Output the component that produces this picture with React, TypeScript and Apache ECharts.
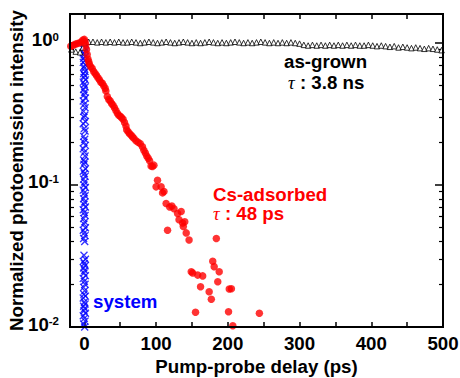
import React, { useEffect, useRef } from 'react';
import * as echarts from 'echarts';

// ---- data ----
const asGrownX = [-18, -12, -6, -2,
  0, 6, 12, 18, 24, 30, 36, 42, 48, 54,
  60, 66, 72, 78, 84, 90, 96, 102, 108, 114,
  120, 126, 132, 138, 144, 150, 156, 162, 168, 174,
  180, 186, 192, 198, 204, 210, 216, 222, 228, 234,
  240, 246, 252, 258, 264, 270, 276, 282, 288, 294,
  300, 306, 312, 318, 324, 330, 336, 342, 348, 354,
  360, 366, 372, 378, 384, 390, 396, 402, 408, 414,
  420, 426, 432, 438, 444, 450, 456, 462, 468, 474,
  480, 486, 492, 498];
const asGrownY = [0.9, 0.87, 0.86, 0.93,
  1.0, 1.02, 1.02, 1.01, 1.02, 1.01, 1.02, 1.01, 1.02, 1.01,
  1.01, 1.02, 1.01, 1.0, 1.01, 1.02, 1.01, 1.0, 1.01, 1.02,
  1.01, 1.0, 1.01, 1.02, 1.01, 1.0, 1.01, 1.0, 1.01, 1.02,
  1.01, 1.0, 1.01, 1.0, 1.01, 1.02, 1.01, 1.0, 1.01, 1.0,
  1.01, 1.02, 1.01, 1.0, 1.01, 1.0, 1.01, 1.0, 1.01, 1.0,
  0.99, 0.97, 0.96, 0.97, 0.96, 0.97, 0.96, 0.97, 0.96, 0.97,
  0.96, 0.97, 0.96, 0.97, 0.96, 0.96, 0.97, 0.96, 0.95, 0.96,
  0.95, 0.94, 0.95, 0.93, 0.94, 0.93, 0.92, 0.93, 0.92, 0.91,
  0.92, 0.91, 0.9, 0.89];

const csX = [-19, -16, -13, -10, -7, -4, -2, 0, 1, 2,
  3, 4, 5, 6, 7, 9, 11, 13, 15, 17,
  19, 21, 23, 25, 27, 29, 30, 32, 34, 36,
  38, 40, 42, 44, 46, 48, 50, 52, 54, 56,
  58, 59, 61, 63, 65, 67, 69, 72, 75, 78,
  81, 83, 85, 87, 89, 91, 93, 95, 97, 102,
  100, 107, 109, 111, 114, 116, 119, 122, 125, 130,
  132, 135, 137, 138, 140, 142, 146, 149, 151, 155,
  158, 162, 165, 174, 177, 179, 181, 184, 186, 188,
  201, 202, 205, 207, 244];
const csY = [0.95, 0.96, 0.98, 0.99, 1.0, 1.02, 1.05, 1.06, 1.02, 0.97,
  0.9, 0.83, 0.77, 0.74, 0.71, 0.68, 0.66, 0.63, 0.61, 0.59,
  0.57, 0.55, 0.53, 0.52, 0.5, 0.48, 0.46, 0.42, 0.4, 0.39,
  0.375, 0.365, 0.35, 0.335, 0.32, 0.31, 0.305, 0.298, 0.29, 0.275,
  0.26, 0.245, 0.237, 0.23, 0.225, 0.219, 0.213, 0.205, 0.2, 0.195,
  0.186, 0.176, 0.168, 0.16, 0.154, 0.148, 0.136, 0.135, 0.138, 0.108,
  0.097, 0.097, 0.088, 0.09, 0.074, 0.048, 0.07, 0.071, 0.068, 0.063,
  0.057, 0.065, 0.054, 0.051, 0.055, 0.046, 0.041, 0.0245, 0.024, 0.0127,
  0.0232, 0.0192, 0.0229, 0.0177, 0.0157, 0.029, 0.0266, 0.042, 0.0208, 0.0245,
  0.0128, 0.0185, 0.0186, 0.0102, 0.0125];

const sysX = [0, 1, -1, 0.5, -0.5, 1.5, -1.5, 0, 1, -1,
  0.5, -1.5, 1.5, -0.5, 0, 1, -1, 0.5, -0.5, 1.5,
  -1.5, 0, 1, -1, 0.5, -0.5, 1.5, -1.5, 0, 1,
  -1, 0.5, -0.5, 1.5, -1.5, 0, 1, -1, 0.5, -0.5,
  1.5, -1.5, 0, 1, -1, 0.5, -0.5, 1.5, -1.5, 0,
  1, -1, 0.5, -0.5, 1.5, -1.5, 0, 1, -1, 0.5,
  -0.5, 1.5, -1.5, 0, 1, -1, 0.5, -0.5, 1.5, -1.5,
  0, 1, -1, 0.5, -0.5, 1.5, -1.5, 0, 1, -1,
  0.5, -0.5, 1.5, -1.5, 0, 1, -1, 0.5, -0.5, 1.5,
  -1.5, 0, 1, -1, 0.5, -0.5, 1.5, -1.5, 0, 1,
  -1, 0.5];
const sysY = [1.0, 0.98, 0.95, 0.93, 0.9, 0.88, 0.85, 0.83, 0.8, 0.78,
  0.75, 0.73, 0.7, 0.68, 0.66, 0.63, 0.61, 0.59, 0.57, 0.55,
  0.53, 0.51, 0.49, 0.47, 0.45, 0.43, 0.41, 0.39, 0.37, 0.35,
  0.33, 0.31, 0.3, 0.28, 0.27, 0.25, 0.24, 0.22, 0.21, 0.2,
  0.19, 0.18, 0.17, 0.16, 0.15, 0.145, 0.14, 0.13, 0.125, 0.12,
  0.115, 0.11, 0.105, 0.1, 0.096, 0.092, 0.088, 0.084, 0.08, 0.076,
  0.073, 0.07, 0.067, 0.064, 0.061, 0.058, 0.055, 0.053, 0.05, 0.048,
  0.046, 0.044, 0.042, 0.04, 0.032, 0.03, 0.029, 0.028, 0.027, 0.026,
  0.025, 0.024, 0.023, 0.022, 0.021, 0.02, 0.019, 0.018, 0.017, 0.0165,
  0.016, 0.015, 0.0145, 0.014, 0.0135, 0.013, 0.0125, 0.012, 0.0115, 0.011,
  0.0105, 0.01];

const xLabelValues = [0, 100, 200, 300, 400, 500];
const xTickValues = [0, 50, 100, 150, 200, 250, 300, 350, 400, 450, 500];
const xMin = -20;
const xMax = 500;
const yMin = 0.01;
const yMax = 1.6;

const F = '"Liberation Sans", Arial, Helvetica, sans-serif';
const SERIF = '"Liberation Serif", "Times New Roman", serif';
const FS = 18.7;

// plot box (layout)
const BOX = { left: 70, top: 14, right: 17, bottom: 51 };
const W = 460;
const H = 378;

export default function App() {
  const ref = useRef<HTMLDivElement>(null);
  useEffect(() => {
    const chart = echarts.init(ref.current as HTMLDivElement, null, { renderer: 'svg' });
    const zip = (xs: number[], ys: number[]) => xs.map((x, i) => [x, ys[i]]);
    const box = { left: BOX.left, right: BOX.right, bottom: BOX.bottom, outerBoundsMode: 'none', containLabel: false };
    const shownLine = { show: true, onZero: false, lineStyle: { color: '#000', width: 2, opacity: 1 } };
    const hiddenLine = { show: false, onZero: false };
    const tickStyle = { color: '#000', width: 1.5, opacity: 1 };
    const text = (t: string, color: string) => ({ text: t, fill: color, font: `bold ${FS}px ${F}` });
    const noSplit = { show: false };
    const xTickAxis = (pos: string) => ({
      type: 'value', gridIndex: 1, position: pos, min: xMin, max: xMax,
      axisLine: shownLine,
      axisTick: { show: true, inside: true, length: 5, customValues: xTickValues, lineStyle: tickStyle },
      axisLabel: { show: false }, splitLine: noSplit,
    });
    const yFrameAxis = (pos: string) => ({
      type: 'log', logBase: 10, gridIndex: 1, position: pos, min: yMin, max: yMax,
      axisLine: shownLine, axisTick: { show: false }, axisLabel: { show: false }, splitLine: noSplit,
    });
    const yTickAxis = (pos: string) => ({
      type: 'log', logBase: 10, gridIndex: 2, position: pos, min: yMin, max: 1,
      axisLine: hiddenLine,
      axisTick: { show: true, inside: true, length: 8, lineStyle: tickStyle },
      minorTick: { show: true, splitNumber: 9, length: 4, lineStyle: { color: '#000', width: 1.2 } },
      axisLabel: { show: false }, splitLine: noSplit,
    });
    const option: any = {
      animation: false,
      backgroundColor: '#fff',
      grid: [
        { ...box, top: BOX.top }, // 0: data + labels
        { ...box, top: BOX.top }, // 1: frame + x ticks
        { ...box, top: 43 },      // 2: log ticks over the decades 0.01..1
      ],
      xAxis: [
        {
          type: 'value', gridIndex: 0, position: 'bottom', min: xMin, max: xMax,
          axisLine: hiddenLine, axisTick: { show: false },
          axisLabel: { customValues: xLabelValues, margin: 7, color: '#000', fontSize: FS, fontWeight: 'bold', fontFamily: F },
          splitLine: noSplit,
          name: 'Pump-probe delay (ps)', nameLocation: 'middle', nameGap: 30, nameMoveOverlap: false,
          nameTextStyle: { color: '#000', fontSize: FS, fontWeight: 'bold', fontFamily: F },
        },
        xTickAxis('bottom'),
        xTickAxis('top'),
        { type: 'value', gridIndex: 2, min: xMin, max: xMax, show: false },
      ],
      yAxis: [
        {
          type: 'log', logBase: 10, gridIndex: 0, position: 'left', min: yMin, max: yMax,
          axisLine: hiddenLine, axisTick: { show: false },
          axisLabel: {
            margin: 11,
            padding: [0, 0, 6, 0],
            formatter: (v: number) => {
              const e = Math.log10(v);
              if (Math.abs(e - Math.round(e)) > 1e-6) return '';
              return `{b|10}{s|${Math.round(e)}}`;
            },
            rich: {
              b: { fontSize: FS, fontWeight: 'bold', fontFamily: F, color: '#000', lineHeight: 18 },
              s: { fontSize: 11.5, fontWeight: 'bold', fontFamily: F, color: '#000', verticalAlign: 'top', lineHeight: 11 },
            },
          },
          splitLine: noSplit,
          name: 'Normalized photoemission intensity', nameLocation: 'middle', nameGap: 44, nameMoveOverlap: false,
          nameTextStyle: { color: '#000', fontSize: FS, fontWeight: 'bold', fontFamily: F },
        },
        yFrameAxis('left'),
        yFrameAxis('right'),
        yTickAxis('left'),
        yTickAxis('right'),
      ],
      series: [
        {
          name: 'system', type: 'scatter', xAxisIndex: 0, yAxisIndex: 0,
          data: zip(sysX, sysY),
          symbol: 'path://M0,0L10,10M10,0L0,10', symbolSize: 7,
          itemStyle: { color: 'transparent', borderColor: '#0000ff', borderWidth: 1.3 },
        },
        {
          name: 'as-grown', type: 'scatter', xAxisIndex: 0, yAxisIndex: 0,
          data: zip(asGrownX, asGrownY),
          symbol: 'triangle', symbolSize: 5.5,
          itemStyle: { color: '#fff', borderColor: '#000', borderWidth: 1 },
        },
        {
          name: 'Cs-adsorbed', type: 'scatter', xAxisIndex: 0, yAxisIndex: 0,
          data: zip(csX, csY),
          symbol: 'circle', symbolSize: 7.5,
          itemStyle: { color: '#ff0000' },
        },
      ],
      graphic: [
        {
          type: 'rect', z: 100, silent: true,
          shape: { x: BOX.left, y: BOX.top, width: W - BOX.left - BOX.right, height: H - BOX.top - BOX.bottom },
          style: { fill: 'none', stroke: '#000', lineWidth: 2 },
        },
        { type: 'text', x: 284, y: 61, style: { ...text('as-grown', '#000'), verticalAlign: 'middle' } },
        {
          type: 'text', x: 288, y: 82,
          style: {
            text: '{t|τ}{n| : 3.8 ns}', verticalAlign: 'middle',
            rich: {
              t: { fontFamily: SERIF, fontStyle: 'italic', fontSize: FS, fill: '#000', color: '#000' },
              n: { fontFamily: F, fontWeight: 'bold', fontSize: FS, fill: '#000', color: '#000' },
            },
          },
        },
        { type: 'text', x: 213, y: 194, style: { ...text('Cs-adsorbed', '#ff0000'), verticalAlign: 'middle' } },
        {
          type: 'text', x: 213, y: 213,
          style: {
            text: '{t|τ}{n| : 48 ps}', verticalAlign: 'middle',
            rich: {
              t: { fontFamily: SERIF, fontStyle: 'italic', fontSize: FS, fill: '#ff0000', color: '#ff0000' },
              n: { fontFamily: F, fontWeight: 'bold', fontSize: FS, fill: '#ff0000', color: '#ff0000' },
            },
          },
        },
        { type: 'text', x: 93, y: 301, style: { ...text('system', '#0000ff'), verticalAlign: 'middle' } },
      ],
    };
    chart.setOption(option);
    return () => chart.dispose();
  }, []);
  return <div ref={ref} style={{ position: 'fixed', left: 0, top: 0, width: W, height: H, background: '#fff' }} />;
}
